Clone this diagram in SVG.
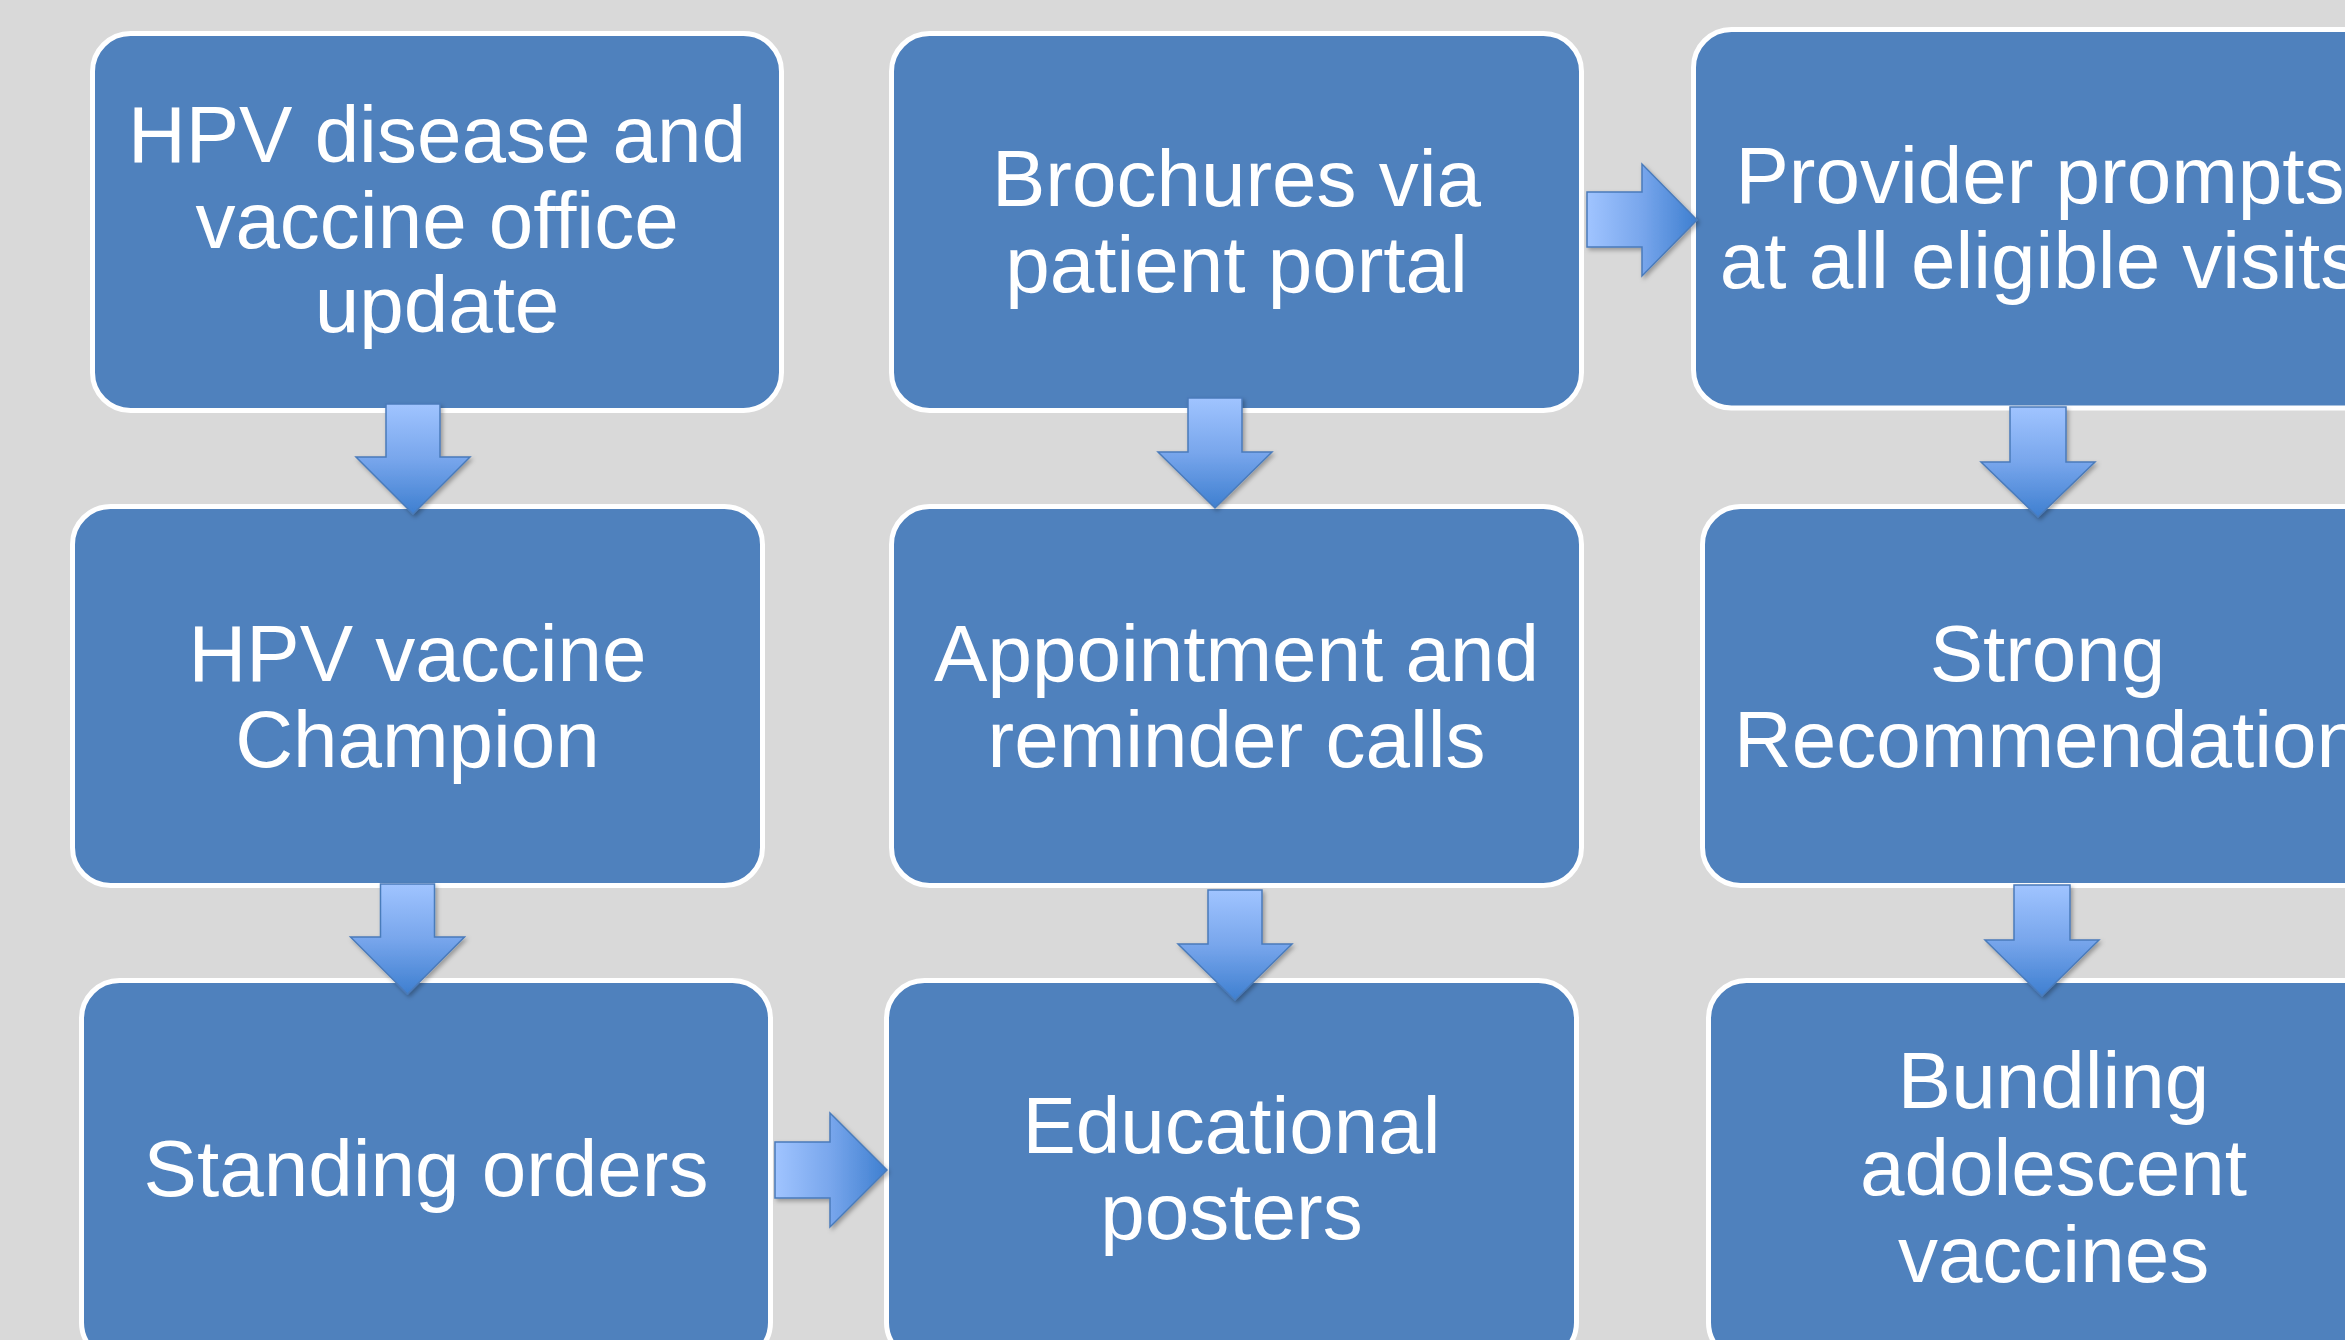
<svg xmlns="http://www.w3.org/2000/svg" width="2345" height="1340" viewBox="0 0 2345 1340">
  <defs>
    <linearGradient id="gradDown" x1="0" y1="0" x2="0" y2="1">
      <stop offset="0" stop-color="#a0c4ff"/>
      <stop offset="0.5" stop-color="#78a6ec"/>
      <stop offset="1" stop-color="#3e7fd0"/>
    </linearGradient>
    <linearGradient id="gradRight" x1="0" y1="0" x2="1" y2="0">
      <stop offset="0" stop-color="#a0c4ff"/>
      <stop offset="0.5" stop-color="#78a6ec"/>
      <stop offset="1" stop-color="#3e7fd0"/>
    </linearGradient>
    <filter id="arrowShadow" x="-20%" y="-20%" width="140%" height="140%">
      <feDropShadow dx="2" dy="2.5" stdDeviation="2" flood-color="#000" flood-opacity="0.3"/>
    </filter>
  </defs>
  <style>
    .box { fill: #4f81bd; stroke: #ffffff; stroke-width: 5; }
    .label { fill: #ffffff; font-family: "Liberation Sans", Arial, sans-serif; font-size: 80px; text-anchor: middle; }
    .down { fill: url(#gradDown); stroke: #4a7bbb; stroke-width: 1.5; stroke-linejoin: miter; filter: url(#arrowShadow); }
    .right { fill: url(#gradRight); stroke: #4a7bbb; stroke-width: 1.5; stroke-linejoin: miter; filter: url(#arrowShadow); }
  </style>

  <rect width="2345" height="1340" fill="#d9d9d9"/>

  <!-- Column 1 -->
  <g id="node-office-update">
    <rect class="box" x="92.5" y="33.5" width="689" height="377" rx="38" ry="38"/>
    <text class="label" x="437" y="162">HPV disease and</text>
    <text class="label" x="437" y="248">vaccine office</text>
    <text class="label" x="437" y="332">update</text>
  </g>
  <g id="node-champion">
    <rect class="box" x="72.5" y="506.5" width="690" height="379" rx="38" ry="38"/>
    <text class="label" x="417.5" y="681">HPV vaccine</text>
    <text class="label" x="417.5" y="767">Champion</text>
  </g>
  <g id="node-standing-orders">
    <rect class="box" x="81.5" y="980.5" width="689" height="380" rx="38" ry="38"/>
    <text class="label" x="426" y="1196">Standing orders</text>
  </g>

  <!-- Column 2 -->
  <g id="node-brochures">
    <rect class="box" x="891.5" y="33.5" width="690" height="377" rx="38" ry="38"/>
    <text class="label" x="1236.5" y="206">Brochures via</text>
    <text class="label" x="1236.5" y="292">patient portal</text>
  </g>
  <g id="node-reminder-calls">
    <rect class="box" x="891.5" y="506.5" width="690" height="379" rx="38" ry="38"/>
    <text class="label" x="1236.5" y="681">Appointment and</text>
    <text class="label" x="1236.5" y="767">reminder calls</text>
  </g>
  <g id="node-posters">
    <rect class="box" x="886.5" y="980.5" width="690" height="380" rx="38" ry="38"/>
    <text class="label" x="1231.5" y="1153">Educational</text>
    <text class="label" x="1231.5" y="1239">posters</text>
  </g>

  <!-- Column 3 -->
  <g id="node-provider-prompts">
    <rect class="box" x="1693.5" y="29.5" width="690" height="378.5" rx="38" ry="38"/>
    <text class="label" x="2040" y="203">Provider prompts</text>
    <text class="label" x="2040" y="288">at all eligible visits</text>
  </g>
  <g id="node-recommendation">
    <rect class="box" x="1702.5" y="506.5" width="690" height="379" rx="38" ry="38"/>
    <text class="label" x="2047.5" y="681">Strong</text>
    <text class="label" x="2047.5" y="767">Recommendation</text>
  </g>
  <g id="node-bundling">
    <rect class="box" x="1708.5" y="980.5" width="690" height="380" rx="38" ry="38"/>
    <text class="label" x="2053.5" y="1108">Bundling</text>
    <text class="label" x="2053.5" y="1195">adolescent</text>
    <text class="label" x="2053.5" y="1282">vaccines</text>
  </g>

  <!-- Block arrows -->
  <g id="connectors">
    <path class="down" d="M386,404 H440 V457 H470 L413,514 L356,457 H386 Z"/>
    <path class="down" d="M380.5,884 H434.5 V937 H464.5 L407.5,994 L350.5,937 H380.5 Z"/>
    <path class="down" d="M1188,398 H1242 V452 H1272 L1215,508 L1158,452 H1188 Z"/>
    <path class="down" d="M1208,890 H1262 V944 H1292 L1235,1000 L1178,944 H1208 Z"/>
    <path class="down" d="M2010,407 H2066 V462 H2095 L2038,517 L1981,462 H2010 Z"/>
    <path class="down" d="M2014,885 H2070 V940 H2099 L2042,996 L1985,940 H2014 Z"/>
    <path class="right" d="M1587,192 H1642 V164 L1697,220 L1642,276 V247 H1587 Z"/>
    <path class="right" d="M775,1142 H830 V1113 L887,1170 L830,1227 V1198 H775 Z"/>
  </g>
</svg>
